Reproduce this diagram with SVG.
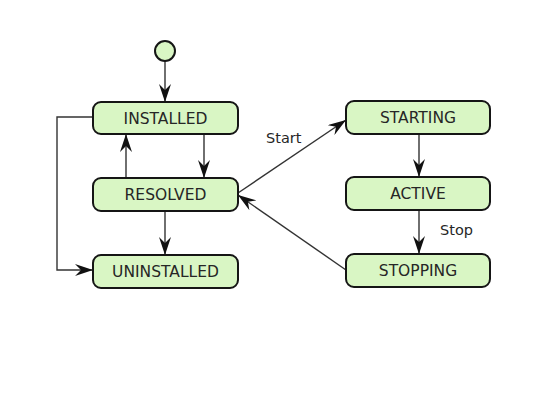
<svg xmlns="http://www.w3.org/2000/svg" width="544" height="412" viewBox="0 0 544 412">
<style>
.n{fill:#d9f6c4;stroke:#151515;stroke-width:2}
.t{font-family:"DejaVu Sans",Verdana,sans-serif;font-size:15.5px;fill:#262626;text-anchor:middle}
.l{font-family:"DejaVu Sans",Verdana,sans-serif;font-size:14.5px;fill:#262626}
.c{fill:none;stroke:#333;stroke-width:1.4}
</style>
<defs>
<marker id="a" viewBox="0 0 18 12" refX="18" refY="6" markerWidth="18" markerHeight="12" markerUnits="userSpaceOnUse" orient="auto">
<path d="M0,0 L18,6 L0,12 L6,6 Z" fill="#111"/>
</marker>
</defs>
<rect width="544" height="412" fill="#fff"/>
<g id="connectors">
<line class="c" x1="165" y1="61" x2="165" y2="102" marker-end="url(#a)"/>
<line class="c" x1="204" y1="134" x2="204" y2="178" marker-end="url(#a)"/>
<line class="c" x1="126" y1="178" x2="126" y2="134" marker-end="url(#a)"/>
<line class="c" x1="165" y1="211" x2="165" y2="255" marker-end="url(#a)"/>
<polyline class="c" points="93,117 57,117 57,270 93,270" marker-end="url(#a)"/>
<line class="c" x1="238" y1="193" x2="346" y2="120" marker-end="url(#a)"/>
<line class="c" x1="346" y1="270" x2="238" y2="195" marker-end="url(#a)"/>
<line class="c" x1="419" y1="134" x2="419" y2="177" marker-end="url(#a)"/>
<line class="c" x1="419" y1="210" x2="419" y2="254" marker-end="url(#a)"/>
<text class="l" x="266" y="143">Start</text>
<text class="l" x="440" y="235">Stop</text>
</g>
<g id="start"><circle class="n" cx="165" cy="51" r="10"/></g>
<g id="installed"><rect class="n" x="93" y="102" width="145" height="32" rx="8"/><text class="t" x="165.5" y="124">INSTALLED</text></g>
<g id="resolved"><rect class="n" x="93" y="178" width="145" height="33" rx="8"/><text class="t" x="165.5" y="200">RESOLVED</text></g>
<g id="uninstalled"><rect class="n" x="93" y="255" width="145" height="33" rx="8"/><text class="t" x="165.5" y="277">UNINSTALLED</text></g>
<g id="starting"><rect class="n" x="346" y="101" width="144" height="33" rx="8"/><text class="t" x="418" y="123">STARTING</text></g>
<g id="active"><rect class="n" x="346" y="177" width="144" height="33" rx="8"/><text class="t" x="418" y="199">ACTIVE</text></g>
<g id="stopping"><rect class="n" x="346" y="254" width="144" height="33" rx="8"/><text class="t" x="418" y="276">STOPPING</text></g>
</svg>
